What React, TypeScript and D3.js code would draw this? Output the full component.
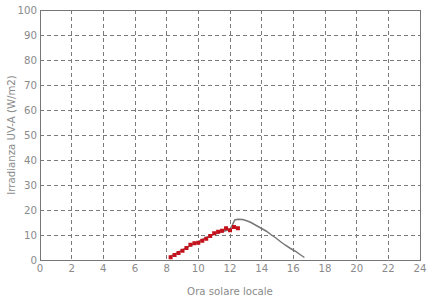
import React from "react";
import * as d3 from "d3";

const xTicks = [0, 2, 4, 6, 8, 10, 12, 14, 16, 18, 20, 22, 24];
const yTicks = [0, 10, 20, 30, 40, 50, 60, 70, 80, 90, 100];

const lineHours = [8.2, 8.5, 9.0, 9.5, 10.0, 10.5, 11.0, 11.5, 12.0, 12.15, 12.3, 12.5, 12.8, 13.0, 13.3, 13.6, 14.0, 14.3, 14.6, 14.9, 15.2, 15.5, 15.8, 16.1, 16.4, 16.7];
const lineValues = [1.3, 2.3, 4.0, 5.8, 7.3, 9.0, 10.3, 11.3, 12.3, 14.0, 16.0, 16.3, 16.2, 15.8, 15.1, 14.0, 12.6, 11.5, 10.1, 8.8, 7.3, 5.9, 4.7, 3.6, 2.3, 1.0];

const pointHours = [8.25, 8.5, 8.75, 9.0, 9.25, 9.5, 9.75, 10.0, 10.25, 10.5, 10.75, 11.0, 11.25, 11.5, 11.75, 12.0, 12.25, 12.5];
const pointValues = [1.1, 2.0, 2.8, 3.7, 4.8, 6.1, 6.7, 6.9, 7.7, 8.5, 9.6, 10.7, 11.3, 11.7, 12.7, 11.9, 13.2, 12.7];

const xTitle = "Ora solare locale";
const yTitle = "Irradianza UV-A (W/m2)";

export default function App() {
  const W = 440, H = 300;
  const L = 40, R = 420, T = 10, B = 260;
  const x = d3.scaleLinear().domain([0, 24]).range([L, R]);
  const y = d3.scaleLinear().domain([0, 100]).range([B, T]);
  const line = d3.line<number>().x((_, i) => x(lineHours[i])).y((d) => y(d));
  const font = "DejaVu Sans, sans-serif";
  const grid = "#7a7a7a";
  const txt = "#8a8a8a";
  const fs = 10.2;
  return (
    <svg width={W} height={H} style={{ position: "absolute", left: 0, top: 0 }} fontFamily={font}>
      <rect x={0} y={0} width={W} height={H} fill="#fff" />
      {xTicks.slice(1, -1).map((t) => (
        <line key={"gx" + t} x1={x(t)} x2={x(t)} y1={T} y2={B} stroke={grid} strokeWidth={1} strokeDasharray="4,3" shapeRendering="crispEdges" />
      ))}
      {yTicks.slice(1, -1).map((t) => (
        <line key={"gy" + t} x1={L} x2={R} y1={y(t)} y2={y(t)} stroke={grid} strokeWidth={1} strokeDasharray="4,3" shapeRendering="crispEdges" />
      ))}
      <rect x={L} y={T} width={R - L} height={B - T} fill="none" stroke="#777" strokeWidth={1} shapeRendering="crispEdges" />
      {xTicks.map((t) => (
        <text key={"tx" + t} x={x(t)} y={B + 12} textAnchor="middle" fontSize={fs} fill={txt}>{t}</text>
      ))}
      {yTicks.map((t) => (
        <text key={"ty" + t} x={L - 3} y={y(t) + 4} textAnchor="end" fontSize={fs} fill={txt}>{t}</text>
      ))}
      <path d={line(lineValues) || ""} fill="none" stroke="#777" strokeWidth={1.5} />
      {pointValues.map((v, i) => (
        <rect key={"p" + i} x={x(pointHours[i]) - 2} y={y(v) - 2} width={4} height={4} fill="#c4111b" />
      ))}
      <text x={(L + R) / 2} y={295} textAnchor="middle" fontSize={fs} fill={txt}>{xTitle}</text>
      <text transform={`translate(15,${(T + B) / 2}) rotate(-90)`} textAnchor="middle" fontSize={fs} fill={txt}>{yTitle}</text>
    </svg>
  );
}
